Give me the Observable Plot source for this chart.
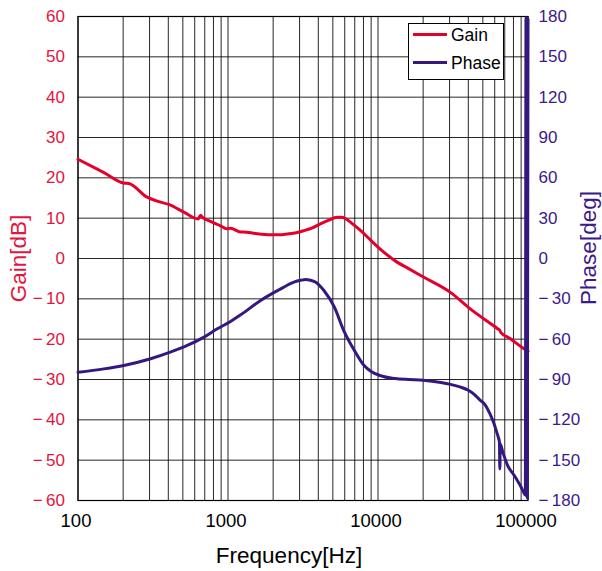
<!DOCTYPE html>
<html><head><meta charset="utf-8">
<script src="https://cdn.jsdelivr.net/npm/d3@7"></script>
<script src="https://cdn.jsdelivr.net/npm/@observablehq/plot@0.6"></script>
<style>
body{margin:0;background:#fff;font-family:"Liberation Sans",Arial,sans-serif;}
#wrap{position:relative;width:602px;height:571px;}
#legend{position:absolute;left:408px;top:23px;}
</style></head><body><div id="wrap"></div>
<script>
const gainFreq = [100,149,202,218,289,346,403,507,632,656,676,763,892,978,1040,1215,1270,1525,1925,2200,2490,2850,3200,3650,4130,4700,5320,5700,6070,6770,7670,8900,10300,13400,16000,20100,30400,41200,62700,64800,65800,76400,91000,100000];
const gainDb   = [24.6,21.3,18.7,18.6,15.2,14.1,13.4,11.5,9.8,10.7,10.2,9.2,8.1,7.4,7.5,6.6,6.6,6.2,5.9,5.9,6.1,6.4,6.9,7.6,8.6,9.5,10.2,10.2,9.9,8.6,6.9,4.6,2.4,-0.9,-2.5,-4.6,-8.4,-12.5,-17.4,-17.8,-18.3,-19.9,-22.0,-23.0];
const phaseFreq = [100,149,202,305,412,535,692,848,1033,1215,1650,2245,2750,3050,3300,3550,3850,4360,5120,5910,6960,8080,9000,10300,13000,16000,20000,26300,30400,35600,40000,43800,47500,51500,56000,59000,61000,63000,64500,64900,65300,67900,73200,81000,89900,93500,96000,97000,98000,98500,99000,100000];
const phaseDeg  = [-84.6,-82.1,-79.6,-74.6,-69.7,-64.7,-58.5,-52.3,-47.0,-41.9,-31.2,-22.6,-17.6,-16.2,-15.6,-16.2,-17.6,-23.8,-36.2,-53.6,-68.4,-79.6,-84,-87.0,-89.3,-90,-90.5,-92.2,-93.6,-95.7,-98,-101,-105,-108.5,-116,-122,-127,-132,-136.5,-156.5,-138,-144,-154,-161.4,-170,-173.8,-176,179,-177,178,-178,178];
const gainTicks  = [-60,-50,-40,-30,-20,-10,0,10,20,30,40,50,60];
const phaseTicks = [-180,-150,-120,-90,-60,-30,0,30,60,90,120,150,180];
const freqTicks  = [100,1000,10000,100000];
const gridFreqs  = [100,200,300,400,500,600,700,800,900,1000,2000,3000,4000,5000,6000,7000,8000,9000,10000,20000,30000,40000,50000,60000,70000,80000,90000,100000];
const seriesNames = ["Gain","Phase"];

const RED = "#e4002b", PURPLE = "#35187f", REDT = "#e3153e", PURT = "#3d1a8c";
const FONT = '"Liberation Sans",Arial,sans-serif';
const gain = gainFreq.map((f,i)=>({f, g: gainDb[i]}));
const phase = phaseFreq.map((f,i)=>({f, p: phaseDeg[i]}));
const fmt = d => d < 0 ? "\u2212\u2009" + Math.abs(d) : String(d);
// phase axis maps -180..180 onto the gain scale -60..60
const toG = p => p / 3;

const chart = Plot.plot({
  width: 602, height: 571,
  marginTop: 16, marginBottom: 71, marginLeft: 77.5, marginRight: 74.5,
  style: {fontFamily: FONT, background: "#fff", overflow: "visible"},
  x: {type: "log", domain: [100, 100000]},
  y: {domain: [-60, 60]},
  marks: [
    Plot.gridX(gridFreqs, {stroke: "#000", strokeOpacity: 0.85, strokeWidth: 1}),
    Plot.gridY(gainTicks, {stroke: "#000", strokeOpacity: 0.85, strokeWidth: 1}),
    Plot.frame({stroke: "#000", strokeWidth: 1.2}),
    Plot.axisX(freqTicks, {tickSize: 0, tickPadding: 13, dx: -2, fontSize: 18.5, fill: "#000", label: null, tickFormat: d => String(d)}),
    Plot.axisY(gainTicks, {anchor: "left", tickSize: 0, tickPadding: 13, fontSize: 17, fill: REDT, label: null, tickFormat: fmt}),
    Plot.axisY(phaseTicks.map(toG), {anchor: "right", tickSize: 0, tickPadding: 10.5, fontSize: 17, fill: PURT, label: null, tickFormat: d => fmt(Math.round(d * 3))}),
    Plot.line(gain, {x: "f", y: "g", stroke: RED, strokeWidth: 3, curve: "monotone-x"}),
    Plot.line(phase, {x: "f", y: d => toG(d.p), stroke: PURPLE, strokeWidth: 3, curve: "monotone-x"}),
    Plot.text(["Gain[dB]"], {frameAnchor: "left", textAnchor: "middle", lineAnchor: "middle", dx: -59.5, rotate: -90, fontSize: 22.5, fill: REDT}),
    Plot.text(["Phase[deg]"], {frameAnchor: "right", textAnchor: "middle", lineAnchor: "middle", dx: 61, dy: -10.5, rotate: -90, fontSize: 22.5, fill: PURT}),
    Plot.text(["Frequency[Hz]"], {frameAnchor: "bottom", textAnchor: "middle", dx: -14, dy: 62, fontSize: 22.5, fill: "#000"})
  ]
});
const wrap = document.getElementById("wrap");
wrap.appendChild(chart);

// legend overlay
const lg = d3.select(wrap).append("svg").attr("id","legend").attr("width", 97).attr("height", 58)
  .style("font-family", FONT);
lg.append("rect").attr("x", 0.5).attr("y", 0.5).attr("width", 95).attr("height", 56).attr("fill", "#fff").attr("stroke", "#000");
const cols = [RED, PURPLE];
seriesNames.forEach((n, i) => {
  const y = 11.5 + i * 28;
  lg.append("line").attr("x1", 5).attr("x2", 39).attr("y1", y).attr("y2", y).attr("stroke", cols[i]).attr("stroke-width", 3);
  lg.append("text").attr("x", 43).attr("y", y + 6.5).attr("font-size", 17.5).attr("fill", "#000").text(n);
});
</script></body></html>
